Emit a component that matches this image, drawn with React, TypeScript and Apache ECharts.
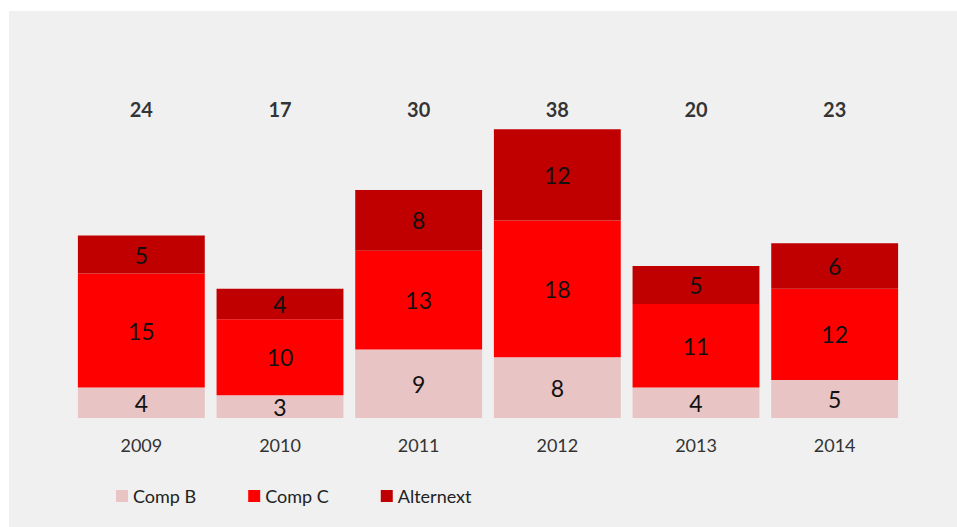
import React, { useEffect, useRef } from "react";
import * as echarts from "echarts";

const categories = ["2009", "2010", "2011", "2012", "2013", "2014"];
const compB = [4, 3, 9, 8, 4, 5];
const compC = [15, 10, 13, 18, 11, 12];
const alternext = [5, 4, 8, 12, 5, 6];
const totals = [24, 17, 30, 38, 20, 23];

const FONT = "Lato, 'Open Sans', sans-serif";

export default function App() {
  const ref = useRef<HTMLDivElement>(null);
  useEffect(() => {
    document.body.style.margin = "0";
    const chart = echarts.init(ref.current!, null, { renderer: "svg" });
    const segLabel = {
      show: true,
      position: "inside",
      color: "#111",
      fontSize: 23,
      fontFamily: FONT,
    };
    chart.setOption({
      animation: false,
      backgroundColor: "#f0f0f0",
      textStyle: { fontFamily: FONT },
      grid: { left: 63, right: 53, top: 103, bottom: 109 },
      legend: {
        data: ["Comp B", "Comp C", "Alternext"],
        left: 102,
        top: 471,
        icon: "rect",
        itemWidth: 12,
        itemHeight: 12,
        itemGap: 52,
        textStyle: { fontSize: 18, color: "#222", fontFamily: FONT },
      },
      xAxis: {
        type: "category",
        data: categories,
        axisLine: { show: false },
        axisTick: { show: false },
        axisLabel: { color: "#333", fontSize: 18, margin: 18, fontFamily: FONT },
      },
      yAxis: [
        { type: "value", min: 0, max: 40, show: false },
        { type: "value", min: 0, max: 1, show: false },
      ],
      series: [
        {
          name: "Comp B",
          type: "bar",
          stack: "s",
          data: compB,
          barCategoryGap: "8.5%",
          itemStyle: { color: "#e8c4c4" },
          label: segLabel,
        },
        {
          name: "Comp C",
          type: "bar",
          stack: "s",
          data: compC,
          itemStyle: { color: "#ff0000" },
          label: segLabel,
        },
        {
          name: "Alternext",
          type: "bar",
          stack: "s",
          data: alternext,
          itemStyle: { color: "#c00000" },
          label: segLabel,
        },
        {
          name: "Total",
          type: "scatter",
          yAxisIndex: 1,
          symbolSize: 0,
          silent: true,
          data: categories.map((c, i) => ({ value: [c, 1], name: String(totals[i]) })),
          label: {
            show: true,
            position: "inside",
            formatter: "{b}",
            offset: [0, -5],
            color: "#000",
            fontSize: 20,
            fontWeight: "bold",
            fontFamily: FONT,
          },
        },
      ],
    });
    return () => chart.dispose();
  }, []);
  return (
    <div style={{ position: "absolute", left: 0, top: 0, width: 957, height: 527, background: "#fff" }}>
      <div
        ref={ref}
        style={{ position: "absolute", left: 9, top: 11, width: 948, height: 516 }}
      />
    </div>
  );
}
